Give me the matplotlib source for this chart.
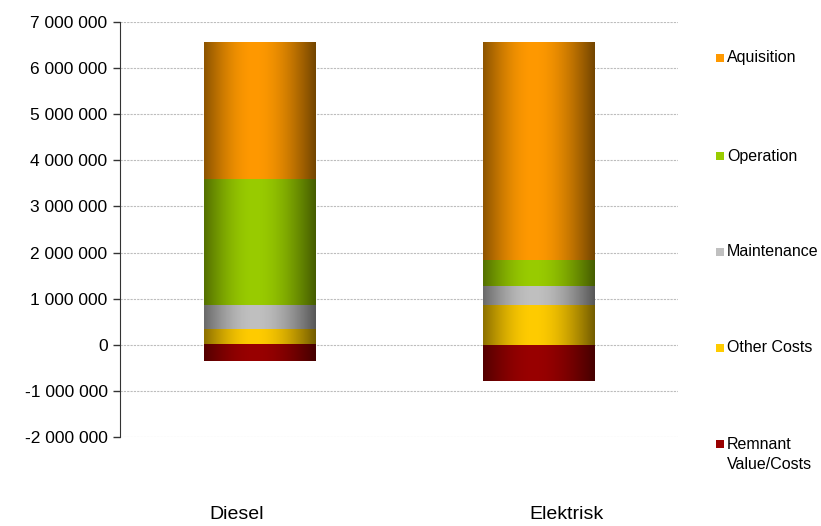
import numpy as np
import matplotlib
matplotlib.use("Agg")
import matplotlib.pyplot as plt
from matplotlib.ticker import FuncFormatter
from matplotlib.patches import Rectangle
from matplotlib.transforms import ScaledTranslation

plt.rcParams['font.family'] = ['Liberation Sans', 'DejaVu Sans']

# data
categories = ['Diesel', 'Elektrisk']
other_costs = [350000, 870000]
maintenance = [520000, 410000]
operation = [2730000, 560000]
aquisition = [2970000, 4710000]
remnant = [-360000, -780000]

series_names = ['Aquisition', 'Operation', 'Maintenance', 'Other Costs', 'Remnant\nValue/Costs']
series_colors = ['#FF9900', '#99CC00', '#C0C0C0', '#FFCC00', '#990000']
yticks = np.arange(-2000000, 7000001, 1000000)


def shade_profile(n=200):
    # cylinder-like shading: dark edges, bright just left of centre
    t = np.linspace(0, 1, n)
    left = 0.55 + 0.45 * np.sin(np.clip(t / 0.45, 0, 1) * np.pi / 2)
    right = 1.0 - 0.55 * (1 - np.cos(np.clip((t - 0.45) / 0.55, 0, 1) * np.pi / 2))
    return np.where(t <= 0.45, left, right)


def shade_bars(ax, bars, color):
    rgb = np.array(matplotlib.colors.to_rgb(color))
    prof = shade_profile()
    img = (prof[:, None] * rgb[None, :])[None, :, :]
    for b in bars:
        x0, y0 = b.get_x(), b.get_y()
        w, h = b.get_width(), b.get_height()
        b.set_alpha(0)
        ax.imshow(img, extent=[x0, x0 + w, y0, y0 + h], aspect='auto',
                  interpolation='bilinear', zorder=2)


fig = plt.figure(figsize=(8.21, 5.26), dpi=100)
ax = fig.add_axes([120 / 821, 1 - 437 / 526, 558 / 821, 415 / 526])

x = np.arange(len(categories))
width = 0.4
bottom = np.zeros(len(categories))
stack = [(other_costs, series_colors[3]), (maintenance, series_colors[2]),
         (operation, series_colors[1]), (aquisition, series_colors[0])]
for vals, col in stack:
    bars = ax.bar(x, vals, width, bottom=bottom, color=col, zorder=2)
    shade_bars(ax, bars, col)
    bottom = bottom + np.array(vals)
bars = ax.bar(x, remnant, width, color=series_colors[4], zorder=2)
shade_bars(ax, bars, series_colors[4])

ax.set_xlim(-0.5, 1.5)
ax.set_ylim(-2000000, 7000000)
ax.set_yticks(yticks)
ax.yaxis.set_major_formatter(FuncFormatter(lambda v, p: f"{int(v):,}".replace(",", " ")))
ax.yaxis.grid(True, color='#BDBDBD', linestyle=(0, (2, 1)), linewidth=0.8, zorder=0)
ax.set_axisbelow(True)

ax.set_xticks(x)
ax.set_xticklabels(categories, fontsize=14)
ax.tick_params(axis='x', length=0, pad=50)
# category labels sit a bit off the bar centres in the original
for lbl, dx in zip(ax.get_xticklabels(), [-0.23, 0.28]):
    lbl.set_transform(lbl.get_transform() + ScaledTranslation(dx, 0, fig.dpi_scale_trans))
ax.tick_params(axis='y', labelsize=12.5, length=5, width=1, color='#333333', pad=4)
for s in ['top', 'right', 'bottom']:
    ax.spines[s].set_visible(False)
ax.spines['left'].set_color('#333333')

# legend on the right
leg_y = [58, 156, 252, 348, 444]
for name, col, yy in zip(series_names, series_colors, leg_y):
    fig.patches.append(Rectangle((716 / 821, 1 - (yy + 4) / 526), 8 / 821, 8 / 526,
                                 transform=fig.transFigure, facecolor=col,
                                 edgecolor='none'))
    if '\n' in name:
        fig.text(727 / 821, 1 - (yy - 7) / 526, name, fontsize=11.5, va='top',
                 ha='left', linespacing=1.4)
    else:
        fig.text(727 / 821, 1 - yy / 526, name, fontsize=11.5, va='center', ha='left')

fig.savefig('out.png', dpi=100)
